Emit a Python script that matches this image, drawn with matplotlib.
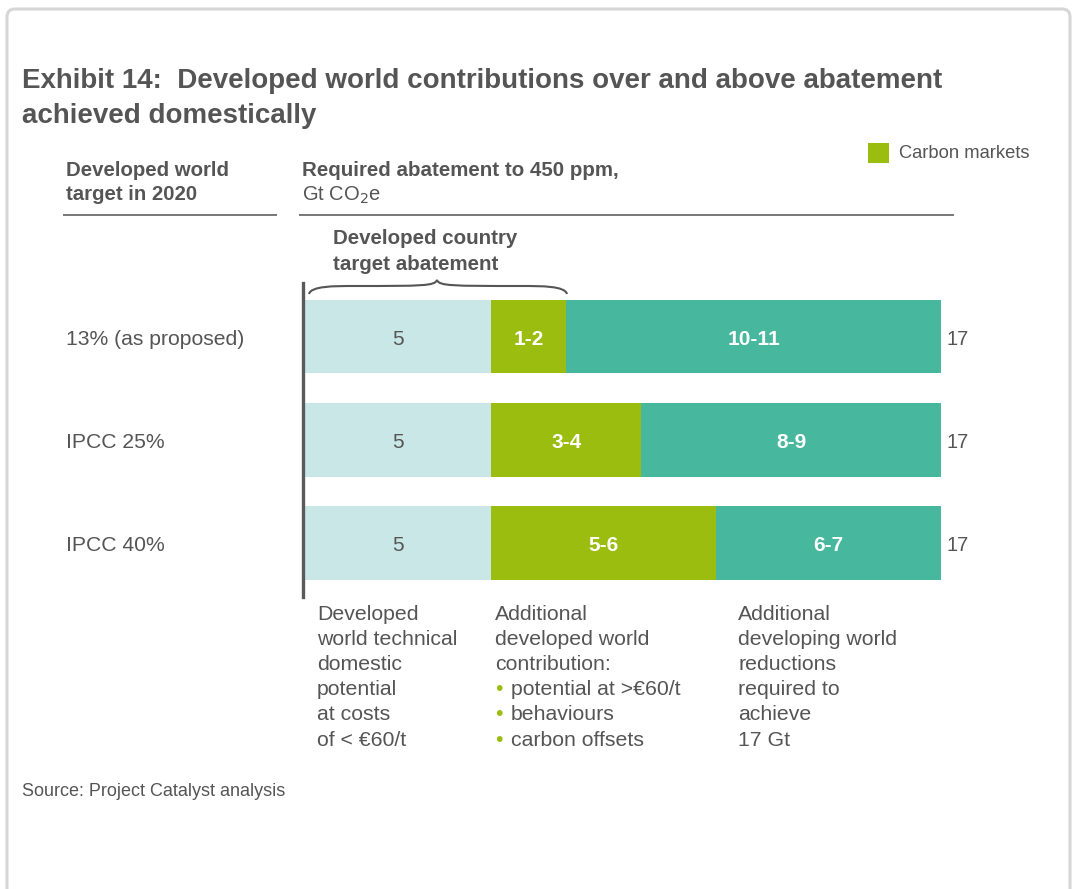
import matplotlib
matplotlib.use("Agg")
import matplotlib.pyplot as plt
from matplotlib.patches import FancyBboxPatch, Rectangle
from matplotlib.path import Path
from matplotlib.patches import PathPatch

plt.rcParams["font.family"] = ["Liberation Sans", "DejaVu Sans"]

W, H = 1077, 889
GREY = "#555555"
LIGHT = "#c9e7e7"
GREEN = "#9bbd0f"
TEAL = "#47b79e"

# data
targets = ["13% (as proposed)", "IPCC 25%", "IPCC 40%"]
domestic = [5, 5, 5]
carbon_markets = [2, 4, 6]
developing = [10, 8, 6]
domestic_labels = ["5", "5", "5"]
carbon_labels = ["1-2", "3-4", "5-6"]
developing_labels = ["10-11", "8-9", "6-7"]
totals = [17, 17, 17]


def fx(px):
    return px / W


def fy(py):
    return 1 - py / H


fig = plt.figure(figsize=(W / 100, H / 100), dpi=100)
fig.patch.set_facecolor("white")

# overlay in pixel coordinates for frame, rules and brace
over = fig.add_axes([0, 0, 1, 1])
over.set_xlim(0, W)
over.set_ylim(H, 0)
over.axis("off")
over.add_patch(FancyBboxPatch((7, 9), 1063, 920, boxstyle="round,pad=0,rounding_size=8",
                              fc="none", ec="#d6d6d6", lw=2.2))
over.plot([64, 276], [215, 215], color="#777777", lw=1.4)
over.plot([300, 953], [215, 215], color="#777777", lw=1.4)

# curly brace over the domestic + carbon part
bl, br, bm = 309, 567, 437
yb, yt, yp = 294, 286, 280
verts = [(bl, yb), (bl + 2, yt), (bl + 25, yt), (bl + 45, yt),
         (bm - 15, yt), (bm - 2, yt), (bm, yp),
         (bm + 2, yt), (bm + 15, yt), (br - 45, yt),
         (br - 25, yt), (br - 2, yt), (br, yb)]
codes = [Path.MOVETO] + [Path.CURVE4] * 12
over.add_patch(PathPatch(Path(verts, codes), fc="none", ec=GREY, lw=1.5))

# legend swatch
over.add_patch(Rectangle((868, 143), 21, 20, fc=GREEN, ec="none"))
fig.text(fx(899), fy(154), "Carbon markets", fontsize=13.2, color=GREY, va="center")

# bars
ax = fig.add_axes([fx(303), fy(597), fx(941) - fx(303), fy(283) - fy(597)])
ypos = list(range(len(targets)))
left2 = [a for a in domestic]
left3 = [a + b for a, b in zip(domestic, carbon_markets)]
h = 0.715
ax.barh(ypos, domestic, height=h, color=LIGHT, left=0)
ax.barh(ypos, carbon_markets, height=h, color=GREEN, left=left2)
ax.barh(ypos, developing, height=h, color=TEAL, left=left3)
ax.set_xlim(-0.03, domestic[0] + carbon_markets[0] + developing[0])
ax.set_ylim(2.523, -0.518)
for s in ["top", "right", "bottom"]:
    ax.spines[s].set_visible(False)
ax.spines["left"].set_color("#5a5a5a")
ax.spines["left"].set_linewidth(2.4)
ax.spines["left"].set_position(("data", -0.03))
ax.set_xticks([])
ax.set_yticks([])
ax.patch.set_alpha(0)

dy_txt = 0.025  # nudge labels onto the optical centre of the bar
for i in ypos:
    yt_ = i + dy_txt
    ax.text(domestic[i] / 2, yt_, domestic_labels[i], ha="center", va="center",
            fontsize=15, color=GREY)
    ax.text(left2[i] + carbon_markets[i] / 2, yt_, carbon_labels[i], ha="center", va="center",
            fontsize=15, color="white", fontweight="bold")
    ax.text(left3[i] + developing[i] / 2, yt_, developing_labels[i], ha="center", va="center",
            fontsize=15, color="white", fontweight="bold")
    ax.text(totals[i] + 0.15, yt_, str(totals[i]), ha="left", va="center",
            fontsize=14.5, color=GREY, clip_on=False)

# row labels on the left
for i, t in enumerate(targets):
    yc = ax.transData.transform((0, i))[1] / fig.dpi / fig.get_figheight()
    fig.text(fx(66), yc - 0.003, t, fontsize=15.2, color=GREY, va="center")

# title and headers
fig.text(fx(22), fy(81), "Exhibit 14:  Developed world contributions over and above abatement",
         fontsize=20.0, color=GREY, fontweight="bold", va="center")
fig.text(fx(22), fy(116), "achieved domestically", fontsize=20.0, color=GREY,
         fontweight="bold", va="center")
fig.text(fx(66), fy(170), "Developed world", fontsize=14.7, color=GREY, fontweight="bold", va="center")
fig.text(fx(66), fy(195), "target in 2020", fontsize=14.7, color=GREY, fontweight="bold", va="center")
fig.text(fx(302), fy(170), "Required abatement to 450 ppm,", fontsize=14.8, color=GREY,
         fontweight="bold", va="center")
fig.text(fx(302), fy(195), r"Gt CO$_2$e", fontsize=14.5, color=GREY, va="center")
fig.text(fx(333), fy(239), "Developed country", fontsize=14.8, color=GREY, fontweight="bold", va="center")
fig.text(fx(333), fy(264), "target abatement", fontsize=14.8, color=GREY, fontweight="bold", va="center")

# notes under the bars
col1 = ["Developed", "world technical", "domestic", "potential", "at costs", "of < €60/t"]
col2 = ["Additional", "developed world", "contribution:"]
col2_bullets = ["potential at >€60/t", "behaviours", "carbon offsets"]
col3 = ["Additional", "developing world", "reductions", "required to", "achieve", "17 Gt"]
y0, dy = 614, 25.2
fs = 15.3
for k, line in enumerate(col1):
    fig.text(fx(317), fy(y0 + k * dy), line, fontsize=fs, color=GREY, va="center")
for k, line in enumerate(col2):
    fig.text(fx(495), fy(y0 + k * dy), line, fontsize=fs, color=GREY, va="center")
for k, line in enumerate(col2_bullets):
    yy = fy(y0 + (k + 3) * dy)
    fig.text(fx(495), yy, "•", fontsize=fs, color=GREEN, va="center")
    fig.text(fx(511), yy, line, fontsize=fs, color=GREY, va="center")
for k, line in enumerate(col3):
    fig.text(fx(738), fy(y0 + k * dy), line, fontsize=fs, color=GREY, va="center")

fig.text(fx(22), fy(792), "Source: Project Catalyst analysis", fontsize=13, color=GREY, va="center")

fig.savefig("out.png", dpi=100)
